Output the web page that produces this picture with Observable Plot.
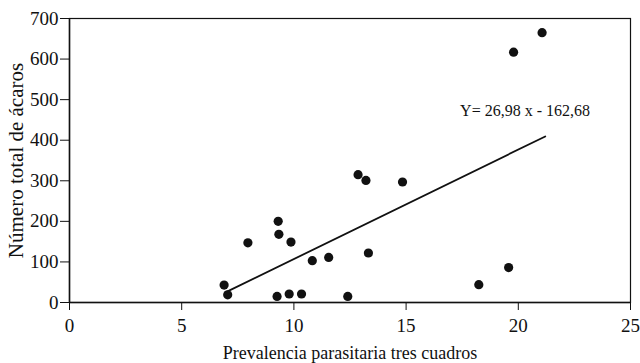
<!DOCTYPE html>
<html>
<head>
<meta charset="utf-8">
<script src="https://cdn.jsdelivr.net/npm/d3@7"></script>
<script src="https://cdn.jsdelivr.net/npm/@observablehq/plot@0.6"></script>
<style>
  html, body { margin: 0; padding: 0; background: #fff; }
  #chart svg { display: block; }
</style>
</head>
<body>
<div id="chart"></div>
<script>
const prevalence = [6.89, 7.05, 7.95, 9.30, 9.33, 9.87, 9.25, 9.79, 10.34, 10.82, 11.55, 12.86, 13.21, 13.32, 12.40, 14.84, 18.24, 19.57, 19.79, 21.06];
const mites      = [43, 19, 147, 200, 168, 149, 15, 21, 21, 103, 111, 315, 301, 122, 15, 297, 44, 86, 617, 665];
const xTicks = [0, 5, 10, 15, 20, 25];
const yTicks = [0, 100, 200, 300, 400, 500, 600, 700];
const slope = 26.98, intercept = -162.68;
const lineX = [6.95, 21.2];
const equationLabel = "Y= 26,98 x - 162,68";
const equationPos = [20.3, 473];

const points = prevalence.map((x, i) => ({x, y: mites[i]}));
const fit = lineX.map(x => ({x, y: slope * x + intercept}));

const font = "'Liberation Serif', 'DejaVu Serif', serif";
const chart = Plot.plot({
  width: 640,
  height: 363,
  marginLeft: 69,
  marginRight: 10,
  marginTop: 18,
  marginBottom: 61,
  style: {fontFamily: font, fontSize: "18px", color: "#111", background: "#fff"},
  x: {domain: [0, 25]},
  y: {domain: [0, 700]},
  marks: [
    Plot.frame({stroke: "#111", strokeWidth: 1.2}),
    Plot.axisX({ticks: xTicks, tickSize: 8, tickPadding: 8, tickFormat: d => d, fontSize: 19,
      label: null}),
    Plot.axisX({ticks: [], tickSize: 0, fontSize: 18,
      label: "Prevalencia parasitaria tres cuadros", labelAnchor: "center", labelOffset: 56, labelArrow: false}),
    Plot.axisY({ticks: yTicks, tickSize: 9, tickPadding: 2, tickFormat: d => d, fontSize: 19,
      label: null}),
    Plot.axisY({ticks: [], tickSize: 0, fontSize: 21,
      label: "Número total de ácaros", labelAnchor: "center", labelOffset: 61, labelArrow: false}),
    Plot.ruleX([0], {stroke: "#111", strokeWidth: 1.5}),
    Plot.ruleY([0], {stroke: "#111", strokeWidth: 1.5}),
    Plot.line(fit, {x: "x", y: "y", stroke: "#111", strokeWidth: 1.8}),
    Plot.dot(points, {x: "x", y: "y", r: 4.6, fill: "#111", stroke: "none"}),
    Plot.text([equationLabel], {x: equationPos[0], y: equationPos[1], text: d => d, fontSize: 16, fill: "#111", textAnchor: "middle"})
  ]
});
document.getElementById("chart").appendChild(chart);
</script>
</body>
</html>
